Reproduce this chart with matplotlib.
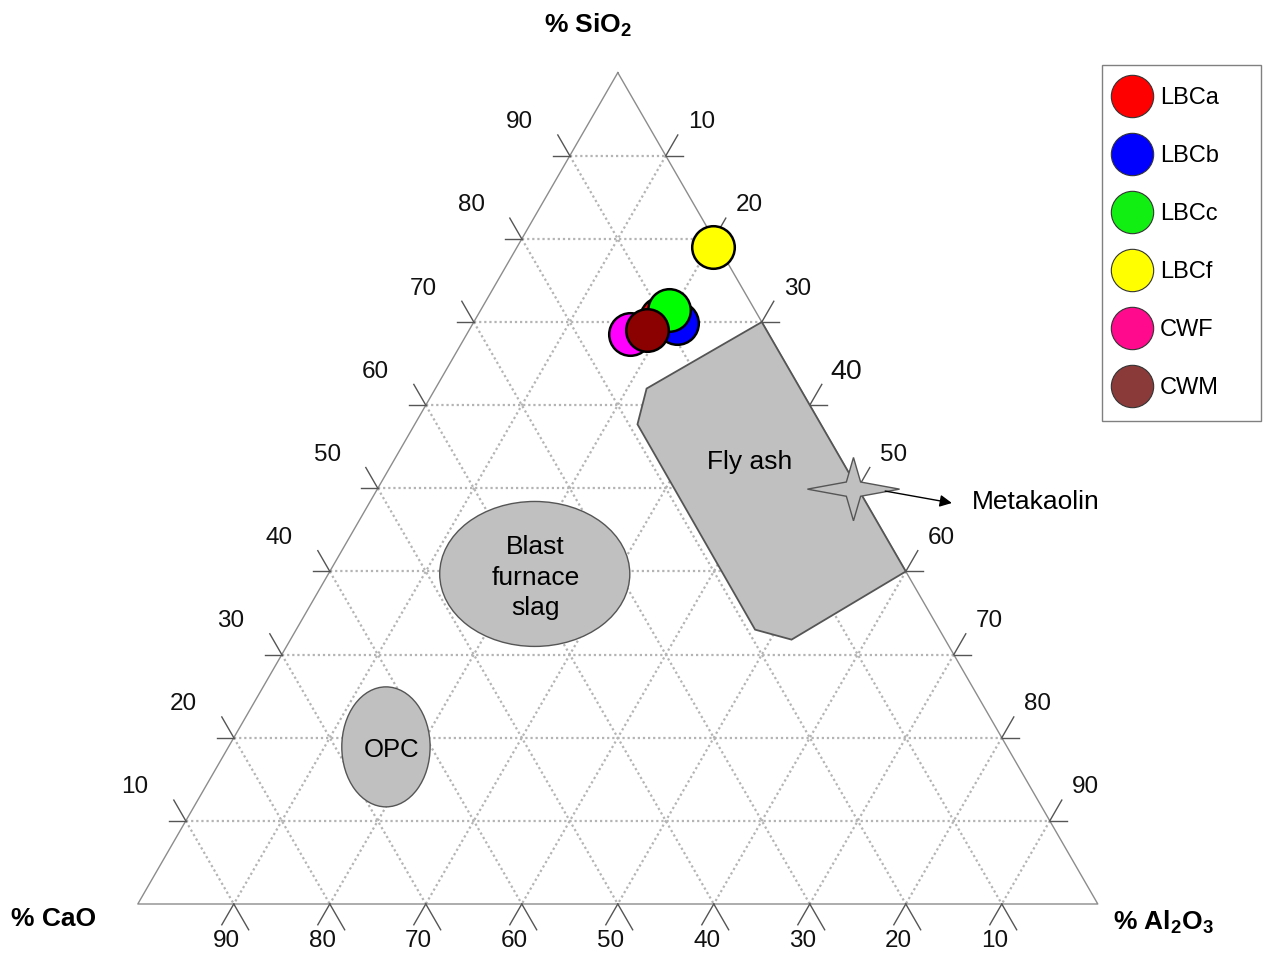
import numpy as np
import matplotlib
matplotlib.use("Agg")
import matplotlib.pyplot as plt
from matplotlib.patches import Polygon, Ellipse
from matplotlib.lines import Line2D

plt.rcParams["font.family"] = ["Liberation Sans", "DejaVu Sans"]
plt.rcParams["mathtext.fontset"] = "custom"
plt.rcParams["mathtext.rm"] = "Liberation Sans"
plt.rcParams["mathtext.bf"] = "Liberation Sans:bold"

# sample compositions (%)
samples = ["LBCa", "LBCb", "LBCc", "LBCf", "CWF", "CWM"]
sio2 = [70.5, 69.9, 71.5, 79.0, 68.6, 69.1]
al2o3 = [19.3, 21.2, 19.6, 20.4, 17.0, 18.5]
cao = [10.2, 8.9, 8.9, 0.6, 14.4, 12.4]
point_colors = ["#ff0000", "#0000ff", "#00ff00", "#ffff00", "#ff00ff", "#8b0000"]
legend_colors = ["#ff0000", "#0000ff", "#11ee11", "#ffff00", "#ff0a8c", "#8b3a3a"]

# fly ash field
fly_sio2 = [70.0, 62.0, 57.7, 33.0, 31.8, 40.0]
fly_al2o3 = [30.0, 22.0, 23.2, 47.8, 52.2, 60.0]
fly_cao = [0.0, 16.0, 19.1, 19.2, 16.0, 0.0]

# slag / OPC field centres and metakaolin
slag_centre = (39.7, 21.5, 38.8)
opc_centre = (18.9, 16.4, 64.7)
metakaolin = (49.9, 49.6, 0.5)

tick_vals = [10, 20, 30, 40, 50, 60, 70, 80, 90]

S3 = np.sqrt(3) / 2


def tern(si, al, ca):
    si, al, ca = np.asarray(si, float), np.asarray(al, float), np.asarray(ca, float)
    tot = si + al + ca
    return (al + si / 2) / tot * 100, si * S3 / tot * 100


fig = plt.figure(figsize=(12.63, 9.55), dpi=100)
ax = fig.add_axes([0, 0, 1, 1])
ax.set_xlim(-14.354, 117.208)
ax.set_ylim(-5.3125, 94.167)
ax.axis("off")

# grid
grid_kw = dict(color="#b4b4b4", lw=1.6, ls=(0, (1, 1.3)), zorder=1)
for v in tick_vals:
    x, y = tern([v, v], [0, 100 - v], [100 - v, 0])
    ax.plot(x, y, **grid_kw)
    x, y = tern([100 - v, 0], [0, 100 - v], [v, v])
    ax.plot(x, y, **grid_kw)
    x, y = tern([100 - v, 0], [v, v], [0, 100 - v])
    ax.plot(x, y, **grid_kw)

# triangle
tx, ty = tern([100, 0, 0, 100], [0, 0, 100, 0], [0, 100, 0, 0])
ax.plot(tx, ty, color="#8c8c8c", lw=1.0, zorder=2)

# ticks and labels
tick_kw = dict(color="#555555", lw=1.0, zorder=2)
lab_kw = dict(fontsize=17.5, ha="center", va="center", color="#111111")
for v in tick_vals:
    # left edge (SiO2)
    x, y = tern(v, 0, 100 - v)
    ax.plot([x, x - 1.8], [y, y], **tick_kw)
    ax.plot([x, x - 0.5 * 2.5], [y, y + S3 * 2.5], **tick_kw)
    ax.text(x - 5.28, y + 3.48, str(v), **lab_kw)
    # right edge (Al2O3)
    x, y = tern(100 - v, v, 0)
    ax.plot([x, x + 1.8], [y, y], **tick_kw)
    ax.plot([x, x + 0.5 * 2.5], [y, y + S3 * 2.5], **tick_kw)
    kw = dict(lab_kw)
    if v == 40:
        kw["fontsize"] = 20.5
    ax.text(x + 3.75, y + 3.48, str(v), **kw)
    # bottom edge (CaO)
    x, y = tern(0, 100 - v, v)
    ax.plot([x, x - 0.5 * 2.5], [y, y - S3 * 2.5], **tick_kw)
    ax.plot([x, x + 0.5 * 3.1], [y, y - S3 * 3.1], **tick_kw)
    ax.text(x - 0.73, y - 3.85, str(v), **lab_kw)

# corner titles
ax.text(46.9, 91.56, r"% SiO$_\mathbf{2}$", fontsize=19, fontweight="bold",
        ha="center", va="center")
ax.text(-8.73, -1.56, "% CaO", fontsize=19, fontweight="bold", ha="center", va="center")
ax.text(106.8, -1.9, r"% Al$_\mathbf{2}$O$_\mathbf{3}$", fontsize=19, fontweight="bold",
        ha="center", va="center")

# fly ash field
fx, fy = tern(fly_sio2, fly_al2o3, fly_cao)
ax.add_patch(Polygon(np.column_stack([fx, fy]), closed=True, facecolor="#c0c0c0",
                     edgecolor="#555555", lw=1.3, zorder=3))
ax.text(63.77, 46.07, "Fly ash", fontsize=19, ha="center", va="center", zorder=4)

# slag and OPC fields
cx, cy = tern(*slag_centre)
ax.add_patch(Ellipse((cx, cy), 19.8, 15.1, facecolor="#c0c0c0", edgecolor="#555555",
                     lw=1.0, zorder=3))
ax.text(cx + 0.07, cy - 0.4, "Blast\nfurnace\nslag", fontsize=19, ha="center",
        va="center", linespacing=1.35, zorder=4)
cx, cy = tern(*opc_centre)
ax.add_patch(Ellipse((cx, cy), 9.2, 12.5, facecolor="#c0c0c0", edgecolor="#555555",
                     lw=1.0, zorder=3))
ax.text(cx + 0.6, cy - 0.3, "OPC", fontsize=18.5, ha="center", va="center", zorder=4)

# metakaolin star
mx, my = tern(*metakaolin)
ang = np.arange(8) * np.pi / 4
rx = np.where(np.arange(8) % 2 == 0, 4.8, 1.05)
ry = np.where(np.arange(8) % 2 == 0, 3.3, 1.05)
star = np.column_stack([mx + rx * np.cos(ang), my + ry * np.sin(ang)])
ax.add_patch(Polygon(star, closed=True, facecolor="#c0c0c0", edgecolor="#555555",
                     lw=1.0, zorder=4))
ax.annotate("", xy=(84.8, 41.77), xytext=(mx + 3.3, my - 0.2),
            arrowprops=dict(arrowstyle="-|>", color="black", lw=1.0,
                            mutation_scale=18, shrinkA=0, shrinkB=0), zorder=4)
ax.text(86.9, 41.9, "Metakaolin", fontsize=19, ha="left", va="center")

# samples
px, py = tern(sio2, al2o3, cao)
for i in range(len(samples)):
    ax.scatter(px[i], py[i], s=940, color=point_colors[i], edgecolors="black",
               linewidths=1.8, zorder=5 + i)

handles = [Line2D([], [], ls="none", marker="o", markersize=30.5, markerfacecolor=c,
                  markeredgecolor="#333333", markeredgewidth=0.8) for c in legend_colors]
leg = ax.legend(handles, samples, loc="upper left",
                bbox_to_anchor=(1102 / 1263, 1 - 413 / 955, 159 / 1263, 348 / 955),
                mode="expand", borderaxespad=0,
                fontsize=17, frameon=True, fancybox=False, edgecolor="#808080",
                framealpha=1, borderpad=0.95, handlelength=0.64, handletextpad=0.87,
                labelspacing=1.52)
leg.get_frame().set_linewidth(1.0)

fig.savefig("out.png", dpi=100)
